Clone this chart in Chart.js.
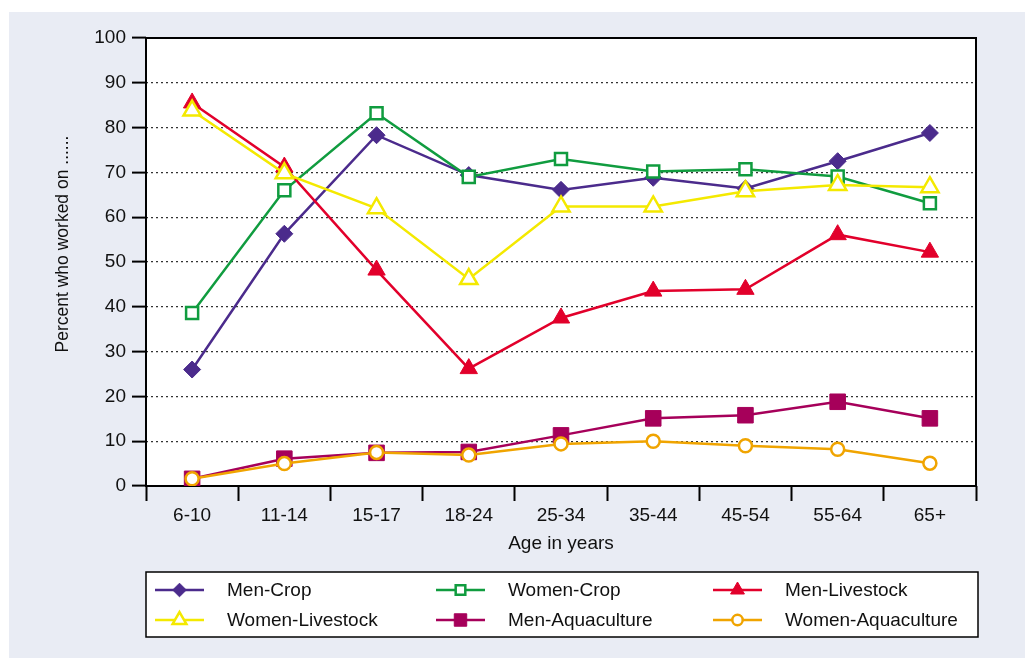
<!DOCTYPE html>
<html>
<head>
<meta charset="utf-8">
<script src="https://cdn.jsdelivr.net/npm/chart.js@4.4.1/dist/chart.umd.min.js"></script>
<style>
  html, body { margin: 0; padding: 0; background: #fff; }
  #wrap { width: 1025px; height: 658px; }
</style>
</head>
<body>
<div id="wrap"><canvas id="chart" width="1025" height="658"></canvas></div>
<script>
const ageGroups = ['6-10', '11-14', '15-17', '18-24', '25-34', '35-44', '45-54', '55-64', '65+'];
const yTicks = [0, 10, 20, 30, 40, 50, 60, 70, 80, 90, 100];

const menCrop = [26, 56.3, 78.3, 69.4, 66.1, 68.8, 66.4, 72.5, 78.8];
const womenCrop = [38.6, 66, 83.2, 69, 73, 70.2, 70.7, 69.1, 63.1];
const menLivestock = [85.5, 71.2, 48.2, 26.2, 37.5, 43.5, 43.9, 56.1, 52.2];
const womenLivestock = [83.8, 69.8, 62, 46.2, 62.4, 62.4, 65.8, 67.2, 66.7];
const menAquaculture = [1.6, 6.1, 7.4, 7.6, 11.3, 15.1, 15.8, 18.8, 15.1];
const womenAquaculture = [1.6, 5, 7.5, 6.9, 9.4, 10, 9, 8.2, 5.1];

const FONT = '"Liberation Sans", Arial, Helvetica, sans-serif';

function series(label, data, color, style, radius, filled) {
  return {
    label: label,
    data: data,
    borderColor: color,
    backgroundColor: color,
    borderWidth: 2.5,
    pointStyle: style,
    pointRadius: radius,
    pointHoverRadius: radius,
    pointBorderColor: color,
    pointBackgroundColor: filled ? color : '#ffffff',
    pointBorderWidth: filled ? 1 : 2.5,
    tension: 0
  };
}

const datasets = [
  series('Women-Aquaculture', womenAquaculture, '#f0a400', 'circle', 6.5, false),
  series('Men-Aquaculture', menAquaculture, '#a6005a', 'rect', 11, true),
  series('Women-Livestock', womenLivestock, '#f4e900', 'triangle', 10, false),
  series('Men-Livestock', menLivestock, '#e2002b', 'triangle', 10, true),
  series('Women-Crop', womenCrop, '#109c3f', 'rect', 8.5, false),
  series('Men-Crop', menCrop, '#4b2b8c', 'rectRot', 8.5, true)
];

// legend order as in the picture (3 columns, 2 rows)
const legendOrder = ['Men-Crop', 'Women-Crop', 'Men-Livestock', 'Women-Livestock', 'Men-Aquaculture', 'Women-Aquaculture'];

const framePlugin = {
  id: 'frame',
  beforeDraw(chart) {
    const ctx = chart.ctx;
    const a = chart.chartArea;
    ctx.save();
    ctx.fillStyle = '#ffffff';
    ctx.fillRect(0, 0, chart.width, chart.height);
    ctx.fillStyle = '#e9ecf4';
    ctx.fillRect(9, 12, chart.width - 9, chart.height - 12);
    ctx.fillStyle = '#ffffff';
    ctx.fillRect(a.left, a.top, a.right - a.left, a.bottom - a.top);
    ctx.restore();
  },
  beforeDatasetsDraw(chart) {
    const ctx = chart.ctx;
    const a = chart.chartArea;
    ctx.save();
    ctx.strokeStyle = '#000';
    ctx.lineWidth = 2;
    ctx.strokeRect(a.left, a.top, a.right - a.left, a.bottom - a.top);
    ctx.restore();
  },
  afterDraw(chart) {
    const ctx = chart.ctx;
    ctx.save();

    // y axis title
    ctx.translate(63, 244);
    ctx.rotate(-Math.PI / 2);
    ctx.fillStyle = '#111';
    ctx.font = '17.5px ' + FONT;
    ctx.textAlign = 'center';
    ctx.textBaseline = 'middle';
    ctx.fillText('Percent who worked on ......', 0, 0);
    ctx.setTransform(1, 0, 0, 1, 0, 0);

    // legend box
    ctx.fillStyle = '#fff';
    ctx.fillRect(146, 572, 832, 65);
    ctx.strokeStyle = '#000';
    ctx.lineWidth = 1.5;
    ctx.strokeRect(146, 572, 832, 65);

    const colX = [155, 436, 713];
    const rowY = [590, 620];
    ctx.font = '19px ' + FONT;
    ctx.textAlign = 'left';
    ctx.textBaseline = 'middle';
    legendOrder.forEach((name, i) => {
      const ds = datasets.find(d => d.label === name);
      const x = colX[i % 3];
      const y = rowY[Math.floor(i / 3)];
      ctx.strokeStyle = ds.borderColor;
      ctx.lineWidth = 2.5;
      ctx.beginPath();
      ctx.moveTo(x, y);
      ctx.lineTo(x + 49, y);
      ctx.stroke();
      ctx.fillStyle = ds.pointBackgroundColor;
      ctx.strokeStyle = ds.pointBorderColor;
      ctx.lineWidth = ds.pointBorderWidth;
      Chart.helpers.drawPoint(ctx, {
        pointStyle: ds.pointStyle,
        radius: ds.pointRadius * 0.8,
        rotation: 0,
        borderWidth: ds.pointBorderWidth
      }, x + 24.5, y);
      ctx.fillStyle = '#111';
      ctx.fillText(name, x + 72, y + 1);
    });
    ctx.restore();
  }
};

new Chart(document.getElementById('chart'), {
  type: 'line',
  data: { labels: ageGroups, datasets: datasets },
  options: {
    responsive: false,
    animation: false,
    layout: { padding: { left: 0, top: 38, right: 49, bottom: 100 } },
    plugins: { legend: { display: false }, tooltip: { enabled: false } },
    scales: {
      x: {
        offset: true,
        grid: {
          offset: true,
          drawOnChartArea: false,
          drawTicks: true,
          tickLength: 15,
          tickColor: '#000',
          tickWidth: 2
        },
        border: { display: false },
        ticks: { color: '#111', font: { family: FONT, size: 19 }, padding: 3, maxRotation: 0 },
        title: { display: true, text: 'Age in years', color: '#111', font: { family: FONT, size: 19 }, padding: { top: 0, bottom: 3 } },
        afterFit(scale) { scale.height = 72; }
      },
      y: {
        min: 0,
        max: 100,
        afterBuildTicks(scale) { scale.ticks = yTicks.map(v => ({ value: v })); },
        grid: {
          color: '#333',
          lineWidth: 1.2,
          drawTicks: true,
          tickLength: 14,
          tickColor: '#000',
          tickWidth: 2,
          tickBorderDash: []
        },
        border: { display: false, dash: [2, 3] },
        ticks: { color: '#111', font: { family: FONT, size: 19 }, padding: 6 },
        afterFit(scale) { scale.width = 146; }
      }
    }
  },
  plugins: [framePlugin]
});
</script>
</body>
</html>
